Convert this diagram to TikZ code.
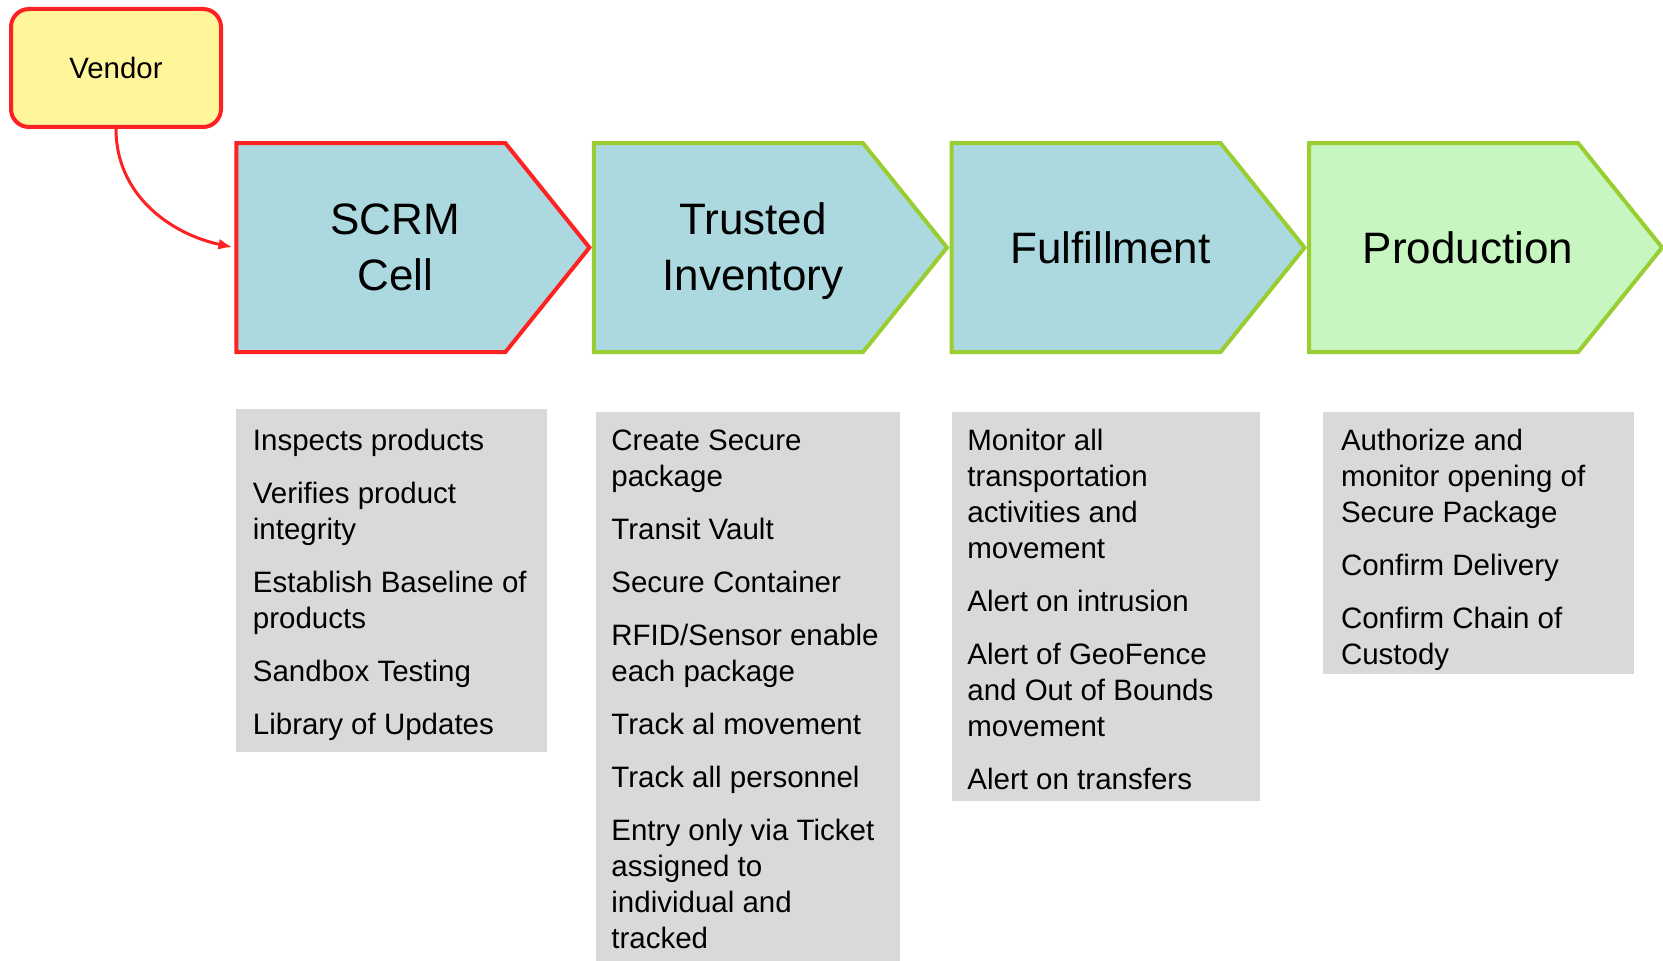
\documentclass[tikz,border=0pt]{standalone}
\usepackage{fontspec}
\setmainfont{Liberation Sans}
\usetikzlibrary{positioning,shapes.symbols,arrows.meta}
\definecolor{cellblue}{HTML}{ACD9E0}
\definecolor{prodgreen}{HTML}{C8F6C0}
\definecolor{limeline}{HTML}{9ACD32}
\definecolor{vendoryellow}{HTML}{FFF59A}
\definecolor{alertred}{HTML}{FF2222}
\definecolor{listgray}{HTML}{D9D9D9}
\begin{document}
\begin{tikzpicture}
	\tikzstyle{stage}=[signal, signal to=east, signal pointer angle=102.4, minimum width=176.5pt, minimum height=104.5pt, inner sep=0pt, line width=2pt, node distance=0pt]
	\tikzstyle{stagetext}=[font=\fontsize{22}{28}\selectfont, align=center, xshift=12.2pt]
	\tikzstyle{listbox}=[rectangle, fill=listgray, inner sep=0pt, anchor=north west]
	\tikzstyle{listtext}=[font=\fontsize{14.75}{18}\selectfont, align=left, inner sep=0pt]
	\tikzstyle{connect}=[-{Latex[length=7pt,width=5.5pt]}, line width=1.5pt, draw=alertred, shorten >=1pt]
	\useasboundingbox (0,0) rectangle (831.5pt,-480.5pt);
	\node[rectangle, rounded corners=9pt, draw=alertred, line width=2pt, fill=vendoryellow, minimum width=105pt, minimum height=59pt, font=\fontsize{14.7}{18}\selectfont] (vendor) at (58pt,-34pt) {Vendor};
	\node[stage, draw=alertred, fill=cellblue, anchor=west, label={[stagetext]center:SCRM\\Cell}] (scrm) at (117.2pt,-123.8pt) {};
	\node[stage, draw=limeline, fill=cellblue, label={[stagetext, yshift=-2pt]center:Trusted\\Inventory}] (trusted) [right=of scrm] {};
	\node[stage, draw=limeline, fill=cellblue, label={[stagetext]center:Fulfillment}] (fulfil) [right=of trusted] {};
	\node[stage, draw=limeline, fill=prodgreen, label={[stagetext]center:Production}] (prod) [right=of fulfil] {};
	\draw[connect] (vendor.south) to[out=-90, in=168] (scrm.west);
	% lists under the stages
	\node[listbox, minimum width=155.4pt, minimum height=171.4pt] (scrmbox) at (117.75pt,-204.15pt) {};
	\node[listbox, minimum width=151.7pt, minimum height=274.75pt] (trustedbox) at (298pt,-205.75pt) {};
	\node[listbox, minimum width=154.3pt, minimum height=194.65pt] (fulfilbox) at (475.7pt,-205.75pt) {};
	\node[listbox, minimum width=155.35pt, minimum height=131pt] (prodbox) at (661.3pt,-205.75pt) {};
	\node[listtext] (scrmlist) [below right=10.4pt and 8.5pt of scrmbox.north west] {Inspects products\\[8.5pt]
		Verifies product\\integrity\\[8.5pt]
		Establish Baseline of\\products\\[8.5pt]
		Sandbox Testing\\[8.5pt]
		Library of Updates};
	\node[listtext] (trustedlist) [below right=8.8pt and 7.5pt of trustedbox.north west] {Create Secure\\package\\[8.5pt]
		Transit Vault\\[8.5pt]
		Secure Container\\[8.5pt]
		RFID/Sensor enable\\each package\\[8.5pt]
		Track al movement\\[8.5pt]
		Track all personnel\\[8.5pt]
		Entry only via Ticket\\assigned to\\individual and\\tracked};
	\node[listtext] (fulfillist) [below right=8.8pt and 7.8pt of fulfilbox.north west] {Monitor all\\transportation\\activities and\\movement\\[8.5pt]
		Alert on intrusion\\[8.5pt]
		Alert of GeoFence\\and Out of Bounds\\movement\\[8.5pt]
		Alert on transfers};
	\node[listtext] (prodlist) [below right=8.8pt and 9pt of prodbox.north west] {Authorize and\\monitor opening of\\Secure Package\\[8.5pt]
		Confirm Delivery\\[8.5pt]
		Confirm Chain of\\Custody};
\end{tikzpicture}
\end{document}
